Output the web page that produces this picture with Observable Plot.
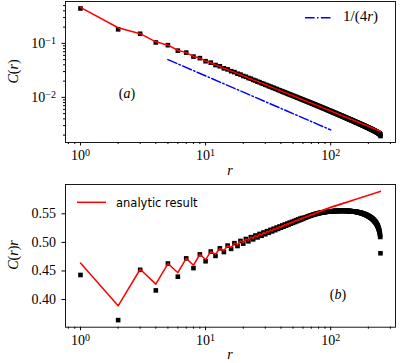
<!DOCTYPE html>
<html><head><meta charset="utf-8">
<script src="https://cdn.jsdelivr.net/npm/d3@7"></script>
<script src="https://cdn.jsdelivr.net/npm/@observablehq/plot@0.6"></script>
<style>
body{margin:0;background:#fff;}
#chart{width:411px;height:363px;position:relative;}
#chart svg{position:absolute;left:0;display:block;overflow:visible;}
</style></head><body><div id="chart"></div>
<script>
// distances r = 1..250
const rValues = d3.range(1, 251);
// numerical C(r)·r (black squares)
const numericCr = [
0.443,0.364,0.452,0.416,0.463,0.440,0.472,0.455,0.479,0.467,
0.4840,0.4764,0.4896,0.4831,0.4944,0.4887,0.4986,0.4937,0.5025,0.4979,
0.5059,0.5019,0.5091,0.5053,0.5120,0.5087,0.5148,0.5115,0.5173,0.5143,
0.5196,0.5168,0.5219,0.5193,0.5239,0.5214,0.5259,0.5236,0.5278,0.5256,
0.5296,0.5275,0.5313,0.5293,0.5329,0.5309,0.5345,0.5327,0.5360,0.5342,
0.5374,0.5357,0.5388,0.5372,0.5401,0.5386,0.5415,0.5399,0.5427,0.5412,
0.5424,0.5430,0.5436,0.5442,0.5448,0.5453,0.5459,0.5464,0.5469,0.5474,
0.5478,0.5482,0.5486,0.5490,0.5494,0.5497,0.5501,0.5504,0.5507,0.5510,
0.5513,0.5515,0.5518,0.5520,0.5522,0.5524,0.5526,0.5528,0.5530,0.5531,
0.5533,0.5534,0.5536,0.5537,0.5538,0.5539,0.5540,0.5541,0.5542,0.5543,
0.5544,0.5545,0.5545,0.5546,0.5547,0.5547,0.5548,0.5548,0.5549,0.5549,
0.5550,0.5550,0.5550,0.5551,0.5551,0.5551,0.5551,0.5552,0.5552,0.5552,
0.5552,0.5552,0.5552,0.5552,0.5552,0.5552,0.5552,0.5552,0.5552,0.5552,
0.5552,0.5551,0.5551,0.5551,0.5551,0.5550,0.5550,0.5550,0.5549,0.5549,
0.5548,0.5548,0.5547,0.5547,0.5546,0.5546,0.5545,0.5544,0.5544,0.5543,
0.5542,0.5541,0.5540,0.5540,0.5539,0.5538,0.5537,0.5536,0.5535,0.5534,
0.5533,0.5532,0.5531,0.5529,0.5528,0.5527,0.5526,0.5525,0.5523,0.5522,
0.5520,0.5519,0.5517,0.5516,0.5514,0.5513,0.5511,0.5510,0.5508,0.5506,
0.5504,0.5502,0.5500,0.5498,0.5496,0.5494,0.5492,0.5490,0.5488,0.5486,
0.5484,0.5482,0.5479,0.5477,0.5474,0.5472,0.5469,0.5467,0.5464,0.5462,
0.5459,0.5456,0.5453,0.5450,0.5447,0.5444,0.5441,0.5438,0.5435,0.5432,
0.5428,0.5425,0.5421,0.5417,0.5413,0.5410,0.5406,0.5402,0.5398,0.5394,
0.5389,0.5384,0.5379,0.5374,0.5369,0.5364,0.5359,0.5354,0.5349,0.5343,
0.5337,0.5330,0.5323,0.5316,0.5308,0.5300,0.5291,0.5282,0.5272,0.5262,
0.5250,0.5238,0.5225,0.5211,0.5195,0.5177,0.5155,0.5130,0.5095,0.4810
];
// analytic C(r)·r (red line)
const analyticCr = [
0.464,0.389,0.453,0.427,0.463,0.447,0.472,0.460,0.479,0.470,
0.4840,0.4793,0.4896,0.4856,0.4944,0.4909,0.4986,0.4956,0.5025,0.4997,
0.5059,0.5035,0.5091,0.5068,0.5120,0.5100,0.5148,0.5128,0.5173,0.5155,
0.5196,0.5179,0.5219,0.5203,0.5239,0.5224,0.5259,0.5245,0.5278,0.5265,
0.5296,0.5283,0.5313,0.5301,0.5329,0.5317,0.5345,0.5334,0.5360,0.5349,
0.5374,0.5364,0.5388,0.5378,0.5401,0.5392,0.5415,0.5405,0.5427,0.5418,
0.5438,0.5430,0.5450,0.5442,0.5462,0.5454,0.5473,0.5465,0.5484,0.5476,
0.5494,0.5487,0.5504,0.5497,0.5514,0.5507,0.5524,0.5516,0.5533,0.5526,
0.5542,0.5536,0.5550,0.5545,0.5559,0.5553,0.5568,0.5562,0.5576,0.5570,
0.5584,0.5578,0.5592,0.5586,0.5600,0.5594,0.5608,0.5601,0.5615,0.5610,
0.5621,0.5616,0.5627,0.5622,0.5633,0.5628,0.5639,0.5633,0.5644,0.5639,
0.5650,0.5644,0.5655,0.5650,0.5660,0.5655,0.5666,0.5660,0.5671,0.5665,
0.5676,0.5670,0.5681,0.5675,0.5686,0.5680,0.5691,0.5685,0.5695,0.5690,
0.5699,0.5695,0.5704,0.5700,0.5708,0.5704,0.5713,0.5709,0.5717,0.5713,
0.5721,0.5718,0.5726,0.5722,0.5730,0.5726,0.5734,0.5730,0.5738,0.5734,
0.5739,0.5741,0.5743,0.5745,0.5747,0.5749,0.5751,0.5753,0.5755,0.5757,
0.5759,0.5761,0.5763,0.5764,0.5766,0.5768,0.5770,0.5772,0.5774,0.5775,
0.5777,0.5779,0.5781,0.5782,0.5784,0.5786,0.5788,0.5789,0.5791,0.5793,
0.5794,0.5796,0.5798,0.5799,0.5801,0.5803,0.5804,0.5806,0.5807,0.5809,
0.5811,0.5812,0.5814,0.5815,0.5817,0.5819,0.5820,0.5822,0.5823,0.5825,
0.5826,0.5828,0.5829,0.5831,0.5832,0.5834,0.5835,0.5837,0.5838,0.5840,
0.5841,0.5842,0.5844,0.5845,0.5847,0.5848,0.5850,0.5851,0.5852,0.5854,
0.5855,0.5856,0.5858,0.5859,0.5861,0.5862,0.5863,0.5865,0.5866,0.5867,
0.5869,0.5870,0.5871,0.5872,0.5874,0.5875,0.5876,0.5878,0.5879,0.5880,
0.5881,0.5883,0.5884,0.5885,0.5886,0.5888,0.5889,0.5890,0.5891,0.5893
];
// reference power law 1/(4r), drawn between these r
const guideR = [5, 100];

const xMajorTicks = [1, 10, 100];
const xMinorTicks = [0.8,0.9,2,3,4,5,6,7,8,9,20,30,40,50,60,70,80,90,200,300];
const yMajorTicksA = [0.01, 0.1];
const yMinorTicksA = [0.002,0.003,0.004,0.005,0.006,0.007,0.008,0.009,0.02,0.03,0.04,0.05,0.06,0.07,0.08,0.09,0.2,0.3,0.4,0.5];
const yTicksB = [0.40, 0.45, 0.50, 0.55];

const W = 411;
const serif = "'Liberation Serif', serif";
const xDomain = [0.759, 329.6];
const rows = rValues.map((r, i) => ({r, num: numericCr[i], ana: analyticCr[i], cNum: numericCr[i] / r, cAna: analyticCr[i] / r}));
const guide = guideR.map(r => ({r, v: 1 / (4 * r)}));
const powFmt = d => "10^" + Math.round(Math.log10(d));

function superscripts(svg) {
  d3.select(svg).selectAll("text").each(function () {
    const m = /^10\^(-?\d+)$/.exec(this.textContent);
    if (m) {
      const s = d3.select(this);
      s.text(null);
      s.append("tspan").text("10");
      s.append("tspan").attr("dy", "-0.42em").attr("font-size", "10px").text(m[1].replace("-", "\u2212"));
    }
  });
}
function addText(svg, x, y, parts, opts = {}) {
  const t = d3.select(svg).append("text")
    .attr("x", x).attr("y", y)
    .attr("font-family", opts.family || serif)
    .attr("font-size", opts.size || 14)
    .attr("text-anchor", opts.anchor || "start")
    .attr("fill", "#000");
  if (opts.rotate) t.attr("transform", `rotate(-90 ${x} ${y})`);
  for (const [txt, it] of parts) t.append("tspan").attr("font-style", it ? "italic" : "normal").text(txt);
  return t;
}

const common = {
  width: W, marginLeft: 65, marginRight: 16,
  style: {background: "transparent", fontFamily: serif, fontSize: "14px", color: "#000", overflow: "visible"}
};

// ---- panel (a)
const pa = Plot.plot({
  ...common, height: 180, marginTop: 1, marginBottom: 38,
  x: {type: "log", domain: xDomain},
  y: {type: "log", domain: [0.00146, 0.596]},
  marks: [
    Plot.axisX({ticks: xMajorTicks, tickSize: 3.5, tickPadding: 4.5, tickFormat: powFmt, label: null, fontSize: 14}),
    Plot.axisX({ticks: xMinorTicks, tickSize: 2, tickFormat: () => "", label: null}),
    Plot.axisY({ticks: yMajorTicksA, tickSize: 3.5, tickPadding: 6, tickFormat: powFmt, label: null, fontSize: 14}),
    Plot.axisY({ticks: yMinorTicksA, tickSize: 2, tickFormat: () => "", label: null}),
    Plot.dot(rows, {x: "r", y: "cNum", symbol: "square", r: 2.6, fill: "#000", stroke: null}),
    Plot.line(rows, {x: "r", y: "cAna", stroke: "#ff0000", strokeWidth: 1.5}),
    Plot.line(guide, {x: "r", y: "v", stroke: "#0000ff", strokeWidth: 1.5, strokeDasharray: "9.6,2.4,1.5,2.4"}),
    Plot.frame({stroke: "#000", strokeWidth: 0.9})
  ]
});
pa.style.top = "0px";
superscripts(pa);
// legend (a)
d3.select(pa).append("line").attr("x1", 305).attr("x2", 332).attr("y1", 17.7).attr("y2", 17.7)
  .attr("stroke", "#0000ff").attr("stroke-width", 1.5).attr("stroke-dasharray", "9.6,2.4,1.5,2.4");
addText(pa, 343, 21, [["1/(4", false], ["r", true], [")", false]], {size: 15});
addText(pa, 127, 98, [["(", false], ["a", true], [")", false]], {anchor: "middle"});
addText(pa, 230, 175, [["r", true]], {anchor: "middle"});
addText(pa, 18, 71.5, [["C", true], ["(", false], ["r", true], [")", false]], {anchor: "middle", rotate: true});

// ---- panel (b)
const pb = Plot.plot({
  ...common, height: 183, marginTop: 4, marginBottom: 36.3,
  x: {type: "log", domain: xDomain},
  y: {domain: [0.3516, 0.6013]},
  marks: [
    Plot.axisX({ticks: xMajorTicks, tickSize: 3.5, tickPadding: 4.5, tickFormat: powFmt, label: null, fontSize: 14}),
    Plot.axisX({ticks: xMinorTicks, tickSize: 2, tickFormat: () => "", label: null}),
    Plot.axisY({ticks: yTicksB, tickSize: 3.5, tickPadding: 6, tickFormat: d3.format(".2f"), label: null, fontSize: 14}),
    Plot.dot(rows, {x: "r", y: "num", symbol: "square", r: 2.6, fill: "#000", stroke: null}),
    Plot.line(rows, {x: "r", y: "ana", stroke: "#ff0000", strokeWidth: 1.5}),
    Plot.frame({stroke: "#000", strokeWidth: 0.9})
  ]
});
pb.style.top = "180px";
superscripts(pb);
d3.select(pb).append("line").attr("x1", 77).attr("x2", 106).attr("y1", 22.3).attr("y2", 22.3)
  .attr("stroke", "#ff0000").attr("stroke-width", 1.5);
addText(pb, 116, 26.5, [["analytic result", false]], {family: "'DejaVu Sans', sans-serif", size: 11.5});
addText(pb, 338, 119, [["(", false], ["b", true], [")", false]], {anchor: "middle"});
addText(pb, 230, 178.5, [["r", true]], {anchor: "middle"});
addText(pb, 18, 75, [["C", true], ["(", false], ["r", true], [")", false], ["r", true]], {anchor: "middle", rotate: true});

document.getElementById("chart").append(pa, pb);
</script>
</body></html>
